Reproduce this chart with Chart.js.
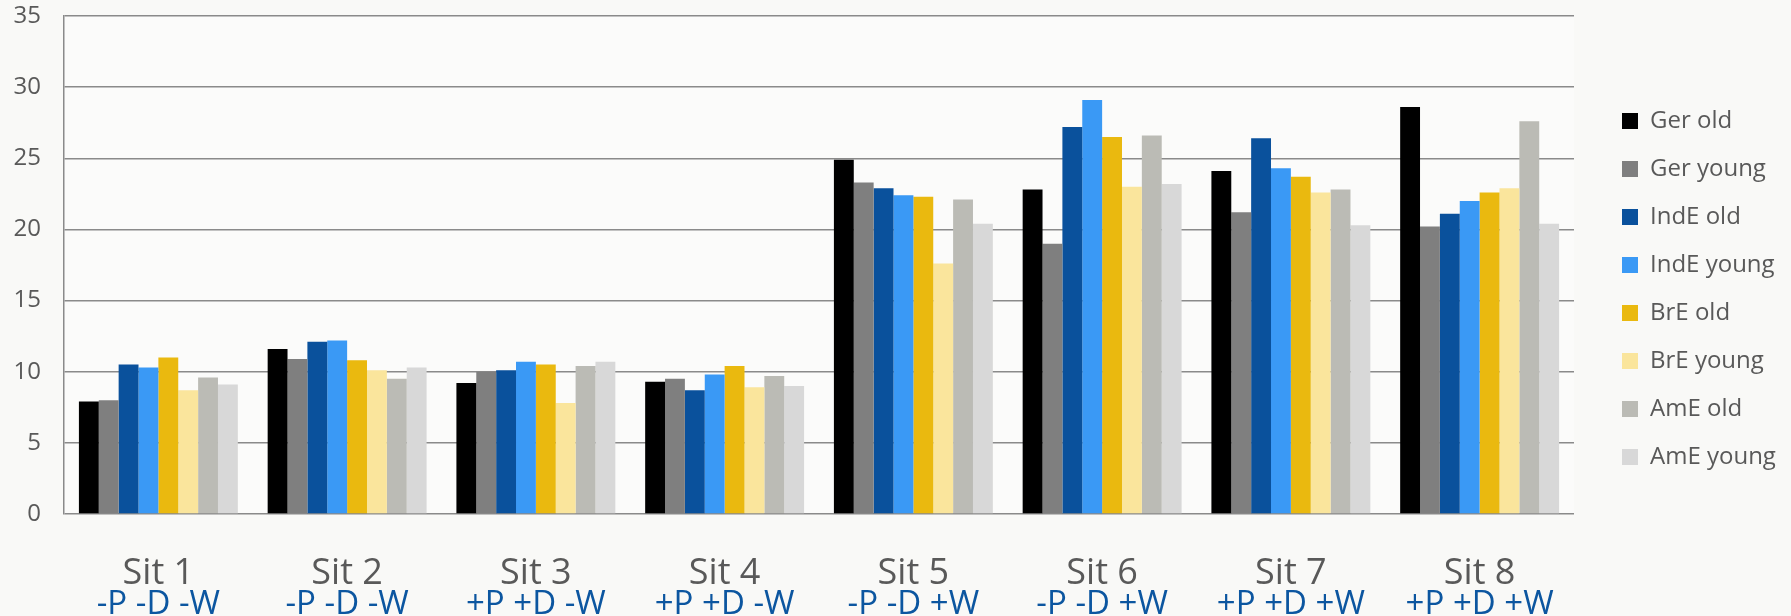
<!DOCTYPE html>
<html>
<head>
<meta charset="utf-8">
<script src="https://cdn.jsdelivr.net/npm/chart.js@4.4.1/dist/chart.umd.min.js"></script>
<style>
  html, body { margin: 0; padding: 0; background: #f9f9f7; overflow: hidden; }
  #wrap { width: 1791px; height: 616px; }
</style>
</head>
<body>
<div id="wrap"><canvas id="chart" width="1791" height="616"></canvas></div>
<script>
// Situations and their conditions (P / D / W)
const situations = ['Sit 1', 'Sit 2', 'Sit 3', 'Sit 4', 'Sit 5', 'Sit 6', 'Sit 7', 'Sit 8'];
const conditions = ['-P -D -W', '-P -D -W', '+P +D -W', '+P +D -W', '-P -D +W', '-P -D +W', '+P +D +W', '+P +D +W'];

// Speaker groups
const gerOld    = [7.9, 11.6, 9.2, 9.3, 24.9, 22.8, 24.1, 28.6];
const gerYoung  = [8.0, 10.9, 10.0, 9.5, 23.3, 19.0, 21.2, 20.2];
const indeOld   = [10.5, 12.1, 10.1, 8.7, 22.9, 27.2, 26.4, 21.1];
const indeYoung = [10.3, 12.2, 10.7, 9.8, 22.4, 29.1, 24.3, 22.0];
const breOld    = [11.0, 10.8, 10.5, 10.4, 22.3, 26.5, 23.7, 22.6];
const breYoung  = [8.7, 10.1, 7.8, 8.9, 17.6, 23.0, 22.6, 22.9];
const ameOld    = [9.6, 9.5, 10.4, 9.7, 22.1, 26.6, 22.8, 27.6];
const ameYoung  = [9.1, 10.3, 10.7, 9.0, 20.4, 23.2, 20.3, 20.4];

const groupNames = ['Ger old', 'Ger young', 'IndE old', 'IndE young', 'BrE old', 'BrE young', 'AmE old', 'AmE young'];
const groupValues = [gerOld, gerYoung, indeOld, indeYoung, breOld, breYoung, ameOld, ameYoung];
const groupColors = ['#000000', '#7f7f7f', '#0a519c', '#3a99f5', '#eab90f', '#fae59c', '#bbbbb5', '#d8d8d8'];

const FONT = "'Open Sans', 'Liberation Sans', sans-serif";
const TEXT_GREY = '#595959';
const GRID = '#8a8a8a';

const backgroundPlugin = {
  id: 'background',
  beforeDraw(chart) {
    const { ctx, chartArea: a } = chart;
    ctx.save();
    ctx.fillStyle = '#f9f9f7';
    ctx.fillRect(0, 0, chart.width, chart.height);
    ctx.fillStyle = '#fbfbfa';
    ctx.fillRect(a.left, a.top, a.right - a.left, a.bottom - a.top);
    ctx.restore();
  }
};

// Place the legend column to the right of the plot area
const legendPlacement = {
  id: 'legendPlacement',
  afterLayout(chart) {
    const lg = chart.legend;
    const a = chart.chartArea;
    const w = lg.width, h = lg.height;
    lg.left = a.right + 24;
    lg.right = lg.left + w;
    lg.top = 85;
    lg.bottom = lg.top + h;
  }
};

new Chart(document.getElementById('chart'), {
  type: 'bar',
  data: {
    labels: situations,
    datasets: groupNames.map((name, i) => ({
      label: name,
      data: groupValues[i],
      backgroundColor: groupColors[i],
      borderWidth: 0,
      barPercentage: 1.0,
      categoryPercentage: 0.842
    }))
  },
  options: {
    responsive: false,
    animation: false,
    layout: { padding: { top: 16, right: 217, bottom: 0, left: 0 } },
    plugins: {
      tooltip: { enabled: false },
      legend: {
        position: 'chartArea',
        align: 'start',
        labels: {
          boxWidth: 16,
          boxHeight: 16,
          padding: 24,
          color: TEXT_GREY,
          font: { family: FONT, size: 24 }
        }
      }
    },
    scales: {
      x: {
        weight: 0,
        grid: { display: false, drawTicks: false },
        border: { display: false },
        ticks: {
          padding: 38,
          color: TEXT_GREY,
          font: { family: FONT, size: 36 }
        },
        afterFit(scale) { scale.height = 75; }
      },
      x2: {
        type: 'category',
        position: 'bottom',
        weight: 1,
        labels: conditions,
        offset: true,
        grid: { display: false, drawTicks: false },
        border: { display: false },
        ticks: {
          padding: 2,
          color: '#0c56a0',
          font: { family: FONT, size: 33, lineHeight: 0.8 }
        },
        afterFit(scale) { scale.height = 27; }
      },
      y: {
        min: 0,
        max: 35,
        grid: { color: GRID, lineWidth: 1.5, drawTicks: false },
        border: { display: true, color: GRID, width: 1.5 },
        ticks: {
          stepSize: 5,
          padding: 23,
          color: TEXT_GREY,
          font: { family: FONT, size: 24 }
        },
        afterFit(scale) {
          scale.width = 64;
          scale.paddingTop = 0;
          scale.paddingBottom = 0;
        }
      }
    }
  },
  plugins: [backgroundPlugin, legendPlacement]
});
</script>
</body>
</html>
